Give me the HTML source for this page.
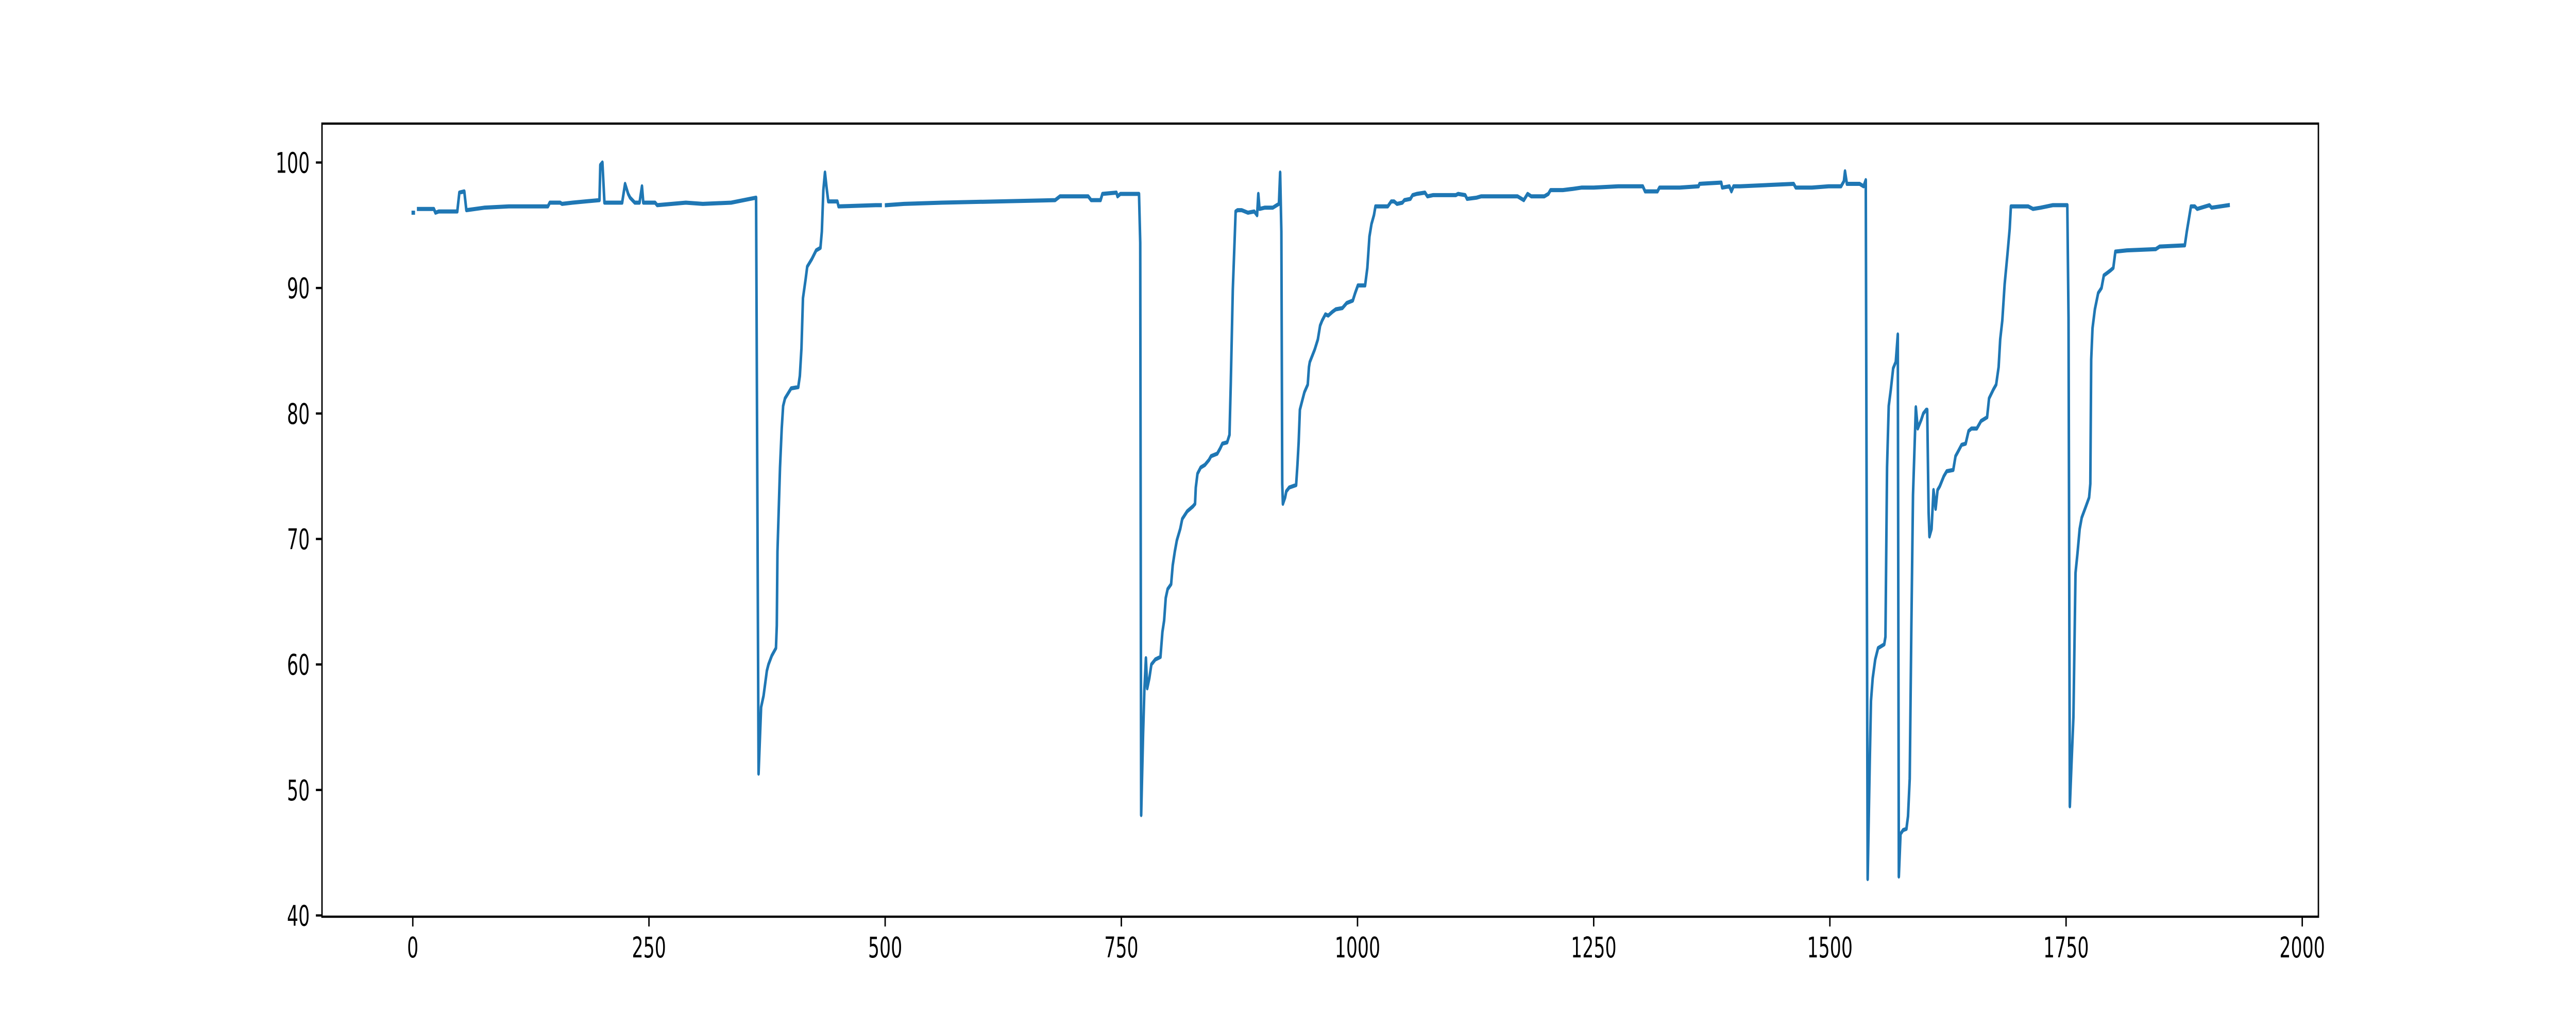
<!DOCTYPE html>
<html><head><meta charset="utf-8"><style>
html,body{margin:0;padding:0;background:#fff;width:100%;height:100%;overflow:hidden}
svg{display:block;width:100vw;height:100vh}
text{font-family:"DejaVu Sans","Liberation Sans",sans-serif;font-size:55.6px;fill:#000}
</style></head><body>
<svg id="chart" viewBox="0 0 8000 2000" preserveAspectRatio="none" xmlns="http://www.w3.org/2000/svg">
<rect width="8000" height="2000" fill="#fff"/>
<g id="plot"></g>
<g id="axes"></g>
</svg>
<script>
const xTicks = [0, 250, 500, 750, 1000, 1250, 1500, 1750, 2000];
const yTicks = [40, 50, 60, 70, 80, 90, 100];
const seriesX = [0,1,null,5.7,22.3,24,27.5,47.1,49.3,54.5,56.7,75.5,101.7,143,145,156,158,169,197.6,198.5,200.7,202.9,221.6,224.7,228,230,235,240,242.6,244,256.5,258.7,289,307,337,363.4,366,368.7,371.3,374.8,376.5,380,384.4,385.3,386,388.7,390.5,392,394,400.5,408,409.7,411.4,413,415.8,417.5,422.3,427,431.5,433,434.6,436.3,438,439.8,449.4,450.7,490,495.2,null,501,520,560,620,680,685,715,718,728,730,744.8,746,749,768.7,770,771,773,774.4,776,777.4,779.6,781.8,786,791.4,793.5,795.3,797,799,802.7,804.4,806.6,808.8,812.3,814.5,819.7,825.8,828,828.8,830.6,834,838.4,842.8,845,851.5,854.5,857,862,864.5,865.8,868,869.8,871,873,877.4,884,890.7,893.7,895,896.3,901.6,910.3,914.6,916.8,918.1,919.4,920.3,921,923.3,924.6,927.7,935,936.4,937.7,939,940.7,943.8,947.3,948.6,949.5,954.7,958,960.4,962.5,966,969,973.4,977,984,988.6,995,997.5,1000.4,1008,1010.4,1012.6,1014.8,1017.4,1019,1032,1035.7,1038.7,1041.8,1047.5,1049.6,1056,1058.3,1062.7,1071.4,1074,1080,1104,1106.4,1114,1116,1126,1130.7,1169.4,1176,1180,1184,1197.7,1202,1204.3,1217.4,1228,1237,1250,1276,1289,1302,1304.4,1317.5,1319.6,1341,1361,1362,1385,1386,1393.6,1395.8,1398,1405,1461.7,1463.9,1481,1498.7,1511.8,1514.8,1516,1518,1531.5,1535.7,1538,1540,1542.2,1543.5,1545.3,1548,1551,1557.5,1558.8,1560.5,1562.3,1564.5,1567,1569.7,1571.9,1573,1574.8,1577.5,1581,1582.7,1584.5,1586.2,1588,1591,1593,1596.7,1598.9,1602,1603,1604.5,1605.4,1607.6,1609.7,1611.9,1614,1616.3,1620.6,1623.7,1630.6,1633,1635.9,1639.4,1643.7,1646.8,1649.8,1655.5,1660,1666.4,1668.5,1673,1676,1678.6,1680.3,1682.5,1685,1688,1690.3,1691.6,1705.5,1710,1715,1723,1736,1751.3,1752.6,1754,1755.6,1757.8,1760,1762,1764.4,1766.6,1771,1774.4,1775.7,1776.6,1778,1780.5,1784,1787.5,1790,1793.5,1797,1800,1802.2,1814.4,1845,1849,1875.7,1877.8,1882.2,1886.3,1888.8,1901.8,1904,1922];
const seriesY = [96.0,96.0,null,96.3,96.3,96.0,96.1,96.1,97.6,97.7,96.2,96.4,96.5,96.5,96.8,96.8,96.7,96.8,97.0,99.8,100.0,96.8,96.8,98.3,97.5,97.2,96.8,96.8,98.1,96.8,96.8,96.6,96.8,96.7,96.8,97.2,51.3,56.6,57.5,59.5,60.0,60.7,61.3,63.1,69.0,75.7,78.8,80.6,81.2,82.0,82.1,83.0,85.2,89.2,90.7,91.7,92.3,93.0,93.2,94.5,97.8,99.2,98.0,96.9,96.9,96.5,96.6,96.6,null,96.6,96.7,96.8,96.9,97.0,97.3,97.3,97.0,97.0,97.5,97.6,97.3,97.5,97.5,93.6,48.0,54.4,58.0,60.5,58.1,58.9,60.0,60.4,60.6,62.6,63.5,65.3,66.0,66.4,67.9,69.0,69.9,70.8,71.6,72.2,72.6,72.8,74.1,75.2,75.7,75.9,76.3,76.6,76.8,77.2,77.6,77.7,78.3,82.3,89.9,93.6,96.1,96.2,96.2,96.0,96.1,95.8,97.5,96.3,96.4,96.4,96.6,96.7,99.2,94.5,74.4,72.8,73.3,73.8,74.1,74.3,75.9,77.7,80.3,80.8,81.7,82.3,83.7,84.1,85.1,85.9,87.0,87.4,87.9,87.8,88.1,88.3,88.4,88.8,89.0,89.6,90.2,90.2,91.6,94.1,95.1,95.8,96.5,96.5,96.9,96.9,96.7,96.8,97.0,97.1,97.4,97.5,97.6,97.3,97.4,97.4,97.5,97.4,97.1,97.2,97.3,97.3,97.0,97.5,97.3,97.3,97.5,97.8,97.8,97.9,98.0,98.0,98.1,98.1,98.1,97.7,97.7,98.0,98.0,98.1,98.3,98.4,98.0,98.1,97.7,98.1,98.1,98.3,98.0,98.0,98.1,98.1,98.5,99.3,98.3,98.3,98.1,98.6,42.9,52.2,57.1,58.9,60.4,61.3,61.6,62.2,75.7,80.6,81.9,83.6,84.1,86.3,43.1,46.5,46.8,46.9,47.9,50.9,62.8,73.5,80.5,78.8,79.5,80.0,80.3,80.3,72.1,70.2,70.8,73.9,72.4,73.9,74.2,75.0,75.4,75.5,76.6,77.0,77.5,77.6,78.6,78.8,78.8,79.4,79.7,81.2,81.9,82.3,83.7,85.9,87.4,90.3,92.7,94.7,96.5,96.5,96.5,96.3,96.4,96.6,96.6,87.6,48.7,51.8,55.8,67.3,68.8,70.8,71.7,72.6,73.3,74.4,84.3,86.8,88.3,89.6,90.0,91.0,91.2,91.4,91.6,92.9,93.0,93.1,93.3,93.4,94.5,96.5,96.5,96.3,96.6,96.4,96.6];

const L=1000,R=7200,T=240,B=1780;
const xmin=-96.1,xmax=2017.1,ymin=39.9,ymax=103.1;
function xs(v){return L+(v-xmin)/(xmax-xmin)*(R-L);}
function ys(v){return B-(v-ymin)/(ymax-ymin)*(B-T);}
const NS='http://www.w3.org/2000/svg';
const plot=document.getElementById('plot'), axes=document.getElementById('axes');

let d='',pen=false;
for(let i=0;i<seriesX.length;i++){
  if(seriesX[i]===null||seriesY[i]===null){pen=false;continue;}
  d+=(pen?'L':'M')+xs(seriesX[i]).toFixed(1)+' '+ys(seriesY[i]).toFixed(1)+' ';
  pen=true;
}
const line=document.createElementNS(NS,'path');
line.setAttribute('d',d);
line.setAttribute('fill','none');
line.setAttribute('stroke','#1f77b4');
line.setAttribute('stroke-width','8');
line.setAttribute('stroke-linejoin','round');
line.setAttribute('stroke-linecap','square');


plot.appendChild(line);

const frame=document.createElementNS(NS,'rect');
frame.setAttribute('x',L);frame.setAttribute('y',T);
frame.setAttribute('width',R-L);frame.setAttribute('height',B-T);
frame.setAttribute('fill','none');frame.setAttribute('stroke','#000');frame.setAttribute('stroke-width','4.4');


axes.appendChild(frame);

xTicks.forEach(v=>{
  const x=xs(v);
  const t=document.createElementNS(NS,'line');
  t.setAttribute('x1',x);t.setAttribute('x2',x);t.setAttribute('y1',B);t.setAttribute('y2',B+19);
  t.setAttribute('stroke','#000');t.setAttribute('stroke-width','4.4');
  
  
  axes.appendChild(t);
  const lb=document.createElementNS(NS,'text');
  lb.setAttribute('x',x);lb.setAttribute('y',B+38+41);lb.setAttribute('text-anchor','middle');
  lb.textContent=v;
  
  
  axes.appendChild(lb);
});
yTicks.forEach(v=>{
  const y=ys(v);
  const t=document.createElementNS(NS,'line');
  t.setAttribute('x1',L-19);t.setAttribute('x2',L);t.setAttribute('y1',y);t.setAttribute('y2',y);
  t.setAttribute('stroke','#000');t.setAttribute('stroke-width','4.4');
  
  
  axes.appendChild(t);
  const lb=document.createElementNS(NS,'text');
  lb.setAttribute('x',L-38);lb.setAttribute('y',y+20);lb.setAttribute('text-anchor','end');
  lb.textContent=v;
  
  
  axes.appendChild(lb);
});
</script>
</body></html>
